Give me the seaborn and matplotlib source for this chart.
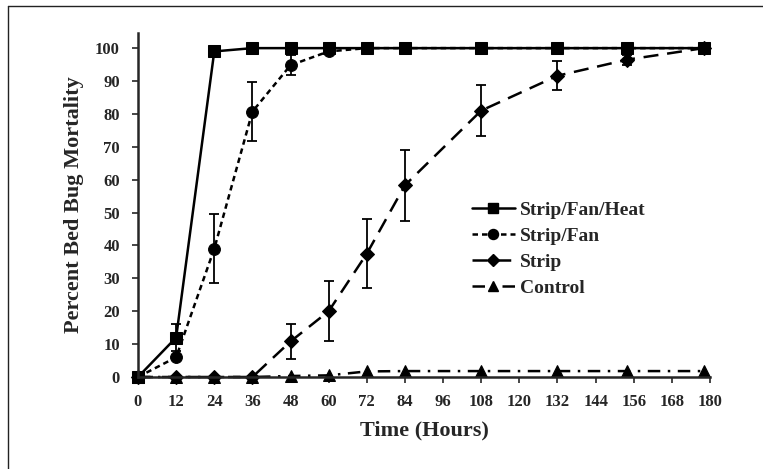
import numpy as np
import pandas as pd
import matplotlib
matplotlib.use("Agg")
import matplotlib.pyplot as plt
import seaborn as sns
from matplotlib.lines import Line2D

# Dados
horas = [0, 12, 24, 36, 48, 60, 72, 84, 108, 132, 154, 178]

fan_heat = [0, 12, 99, 100, 100, 100, 100, 100, 100, 100, 100, 100]
fan_heat_err = [0, 4, 0, 0, 0, 0, 0, 0, 0, 0, 0, 0]

fan = [0, 6, 39, 80.7, 94.8, 99, 100, 100, 100, 100, 100, 100]
fan_err = [0, 0, 10.5, 9, 3, 0, 0, 0, 0, 0, 0, 0]

strip = [0, 0, 0, 0, 10.8, 20, 37.5, 58.3, 81, 91.6, 96.5, 100]
strip_err = [0, 0, 0, 0, 5.2, 9.2, 10.4, 10.8, 7.7, 4.4, 1.5, 0]

control = [0, 0, 0, 0, 0.3, 0.5, 1.7, 1.8, 1.8, 1.8, 1.8, 1.8]

series = ["Strip/Fan/Heat", "Strip/Fan", "Strip", "Control"]
xticks = list(range(0, 181, 12))
yticks = list(range(0, 101, 10))

sns.set_style("ticks")
plt.rcParams['font.family'] = ['Liberation Serif', 'DejaVu Serif']
plt.rcParams['font.weight'] = 'bold'

fig = plt.figure(figsize=(7.63, 4.69), dpi=100)
ax = fig.add_axes([138 / 763, 1 - 377 / 469, 572 / 763, 344 / 469])

# bordas da figura (so topo e esquerda aparecem)
fig.add_artist(Line2D([8 / 763, 1], [1 - 6 / 469, 1 - 6 / 469], color='#222222', lw=1.0))
fig.add_artist(Line2D([8 / 763, 8 / 763], [0, 1 - 6 / 469], color='#222222', lw=1.0))

estilos = [
    (fan_heat, fan_heat_err, 's', '-', 8),
    (fan, fan_err, 'o', (0, (2.2, 1.6)), 8.5),
    (strip, strip_err, 'D', (0, (6, 3.5)), 7),
    (control, None, '^', (0, (5, 3, 1, 3)), 8),
]

handles = []
for nome, (vals, err, mk, ls, ms) in zip(series, estilos):
    df = pd.DataFrame({'Horas': horas, 'Mortalidade': vals})
    sns.lineplot(data=df, x='Horas', y='Mortalidade', ax=ax, color='black',
                 marker=mk, markersize=ms, markeredgecolor='black',
                 linestyle=ls, linewidth=1.8, errorbar=None, sort=False,
                 clip_on=False, label=nome)
    if err is not None:
        e = np.array(err)
        m = e > 0
        ax.errorbar(np.array(horas)[m], np.array(vals)[m], yerr=e[m], fmt='none',
                    ecolor='black', elinewidth=1.3, capsize=3.5, capthick=1.3,
                    clip_on=False)
    handles.append(Line2D([], [], color='black', marker=mk, markersize=ms * 0.85,
                          linestyle=ls, linewidth=1.8))

ax.set_xlim(0, 180)
ax.set_ylim(0, 104.6)
ax.set_xticks(xticks)
ax.set_yticks(yticks)
ax.tick_params(axis='both', labelsize=12, length=4, width=1.2, direction='out')
ax.tick_params(axis='y', pad=9)
ax.tick_params(axis='x', pad=8)
for lab in ax.get_xticklabels() + ax.get_yticklabels():
    lab.set_fontweight('bold')
sns.despine(ax=ax)
ax.spines['left'].set_linewidth(1.8)
ax.spines['bottom'].set_linewidth(1.8)

ax.set_xlabel('Time (Hours)', fontsize=16, fontweight='bold', labelpad=8)
ax.set_ylabel('Percent Bed Bug Mortality', fontsize=16, fontweight='bold', labelpad=8)

ax.legend(handles, series, loc='upper left', bbox_to_anchor=(0.584, 0.51),
          frameon=False, prop={'weight': 'bold', 'size': 14},
          handlelength=2.2, handletextpad=0.25, labelspacing=0.42,
          borderpad=0, borderaxespad=0)

fig.savefig('out.png', dpi=100)
